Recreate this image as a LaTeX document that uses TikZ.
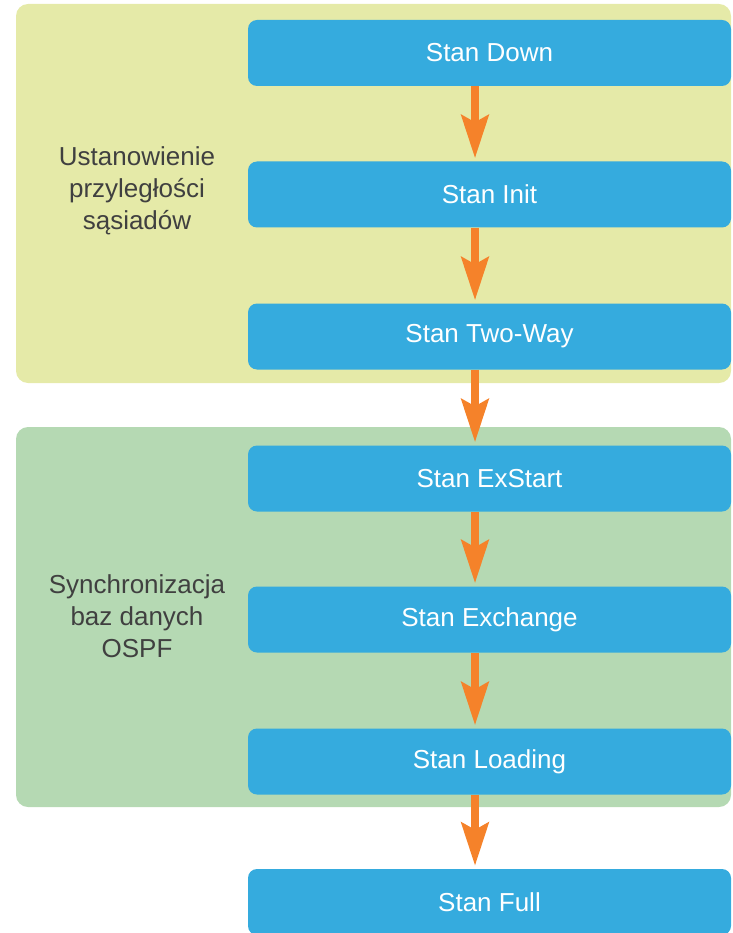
\documentclass[tikz,border=0pt]{standalone}
\usepackage{fontspec}
\setmainfont{Liberation Sans}
\usetikzlibrary{arrows.meta,calc}
\definecolor{panelyellow}{HTML}{E5EAA8}
\definecolor{panelgreen}{HTML}{B5D9B3}
\definecolor{statebg}{HTML}{35ABDE}
\definecolor{flow}{HTML}{F5822A}
\definecolor{labeltext}{HTML}{404040}
\begin{document}
\begin{tikzpicture}[x=1pt,y=-1pt,
  panel/.style={rounded corners=12pt},
  statebox/.style={fill=statebg, rounded corners=9pt, minimum width=483pt,
    minimum height=66pt, inner sep=0pt, text=white,
    font=\fontsize{26}{32}\selectfont},
  grouplabel/.style={align=center, text=labeltext,
    font=\fontsize{26}{32}\selectfont},
  flowarrow/.style={draw=flow, line width=8pt,
    -{Stealth[length=43pt,width=27pt,inset=7pt]}, shorten >=3pt}]
  \useasboundingbox (0,0) rectangle (732,933);

  % group panels
  \fill[panelyellow, panel] (16,4) rectangle (731,383);
  \fill[panelgreen, panel] (16,427) rectangle (731,807);

  % group labels
  \node[grouplabel] (lab1) at (137,191) {Ustanowienie\\przyległości\\sąsiadów};
  \node[grouplabel] (lab2) at (137,616) {Synchronizacja\\baz danych\\OSPF};

  % neighbour states
  \node[statebox] (down)  at (489.5,53)   {Stan Down};
  \node[statebox] (init)  at (489.5,194.5) {Stan Init};
  \node[statebox] (two)   at (489.5,336.5) {Stan Two-Way};
  \node[statebox] (exst)  at (489.5,478.5) {Stan ExStart};
  \node[statebox] (exch)  at (489.5,619.5) {Stan Exchange};
  \node[statebox] (load)  at (489.5,761.5) {Stan Loading};
  \node[statebox] (full)  at (489.5,902)   {Stan Full};

  % transitions
  \coordinate (ax) at (475,0);
  \foreach \a/\b in {down/init, init/two, two/exst, exst/exch, exch/load, load/full}
    \draw[flowarrow] (\a.south -| ax) -- (\b.north -| ax);
\end{tikzpicture}
\end{document}
